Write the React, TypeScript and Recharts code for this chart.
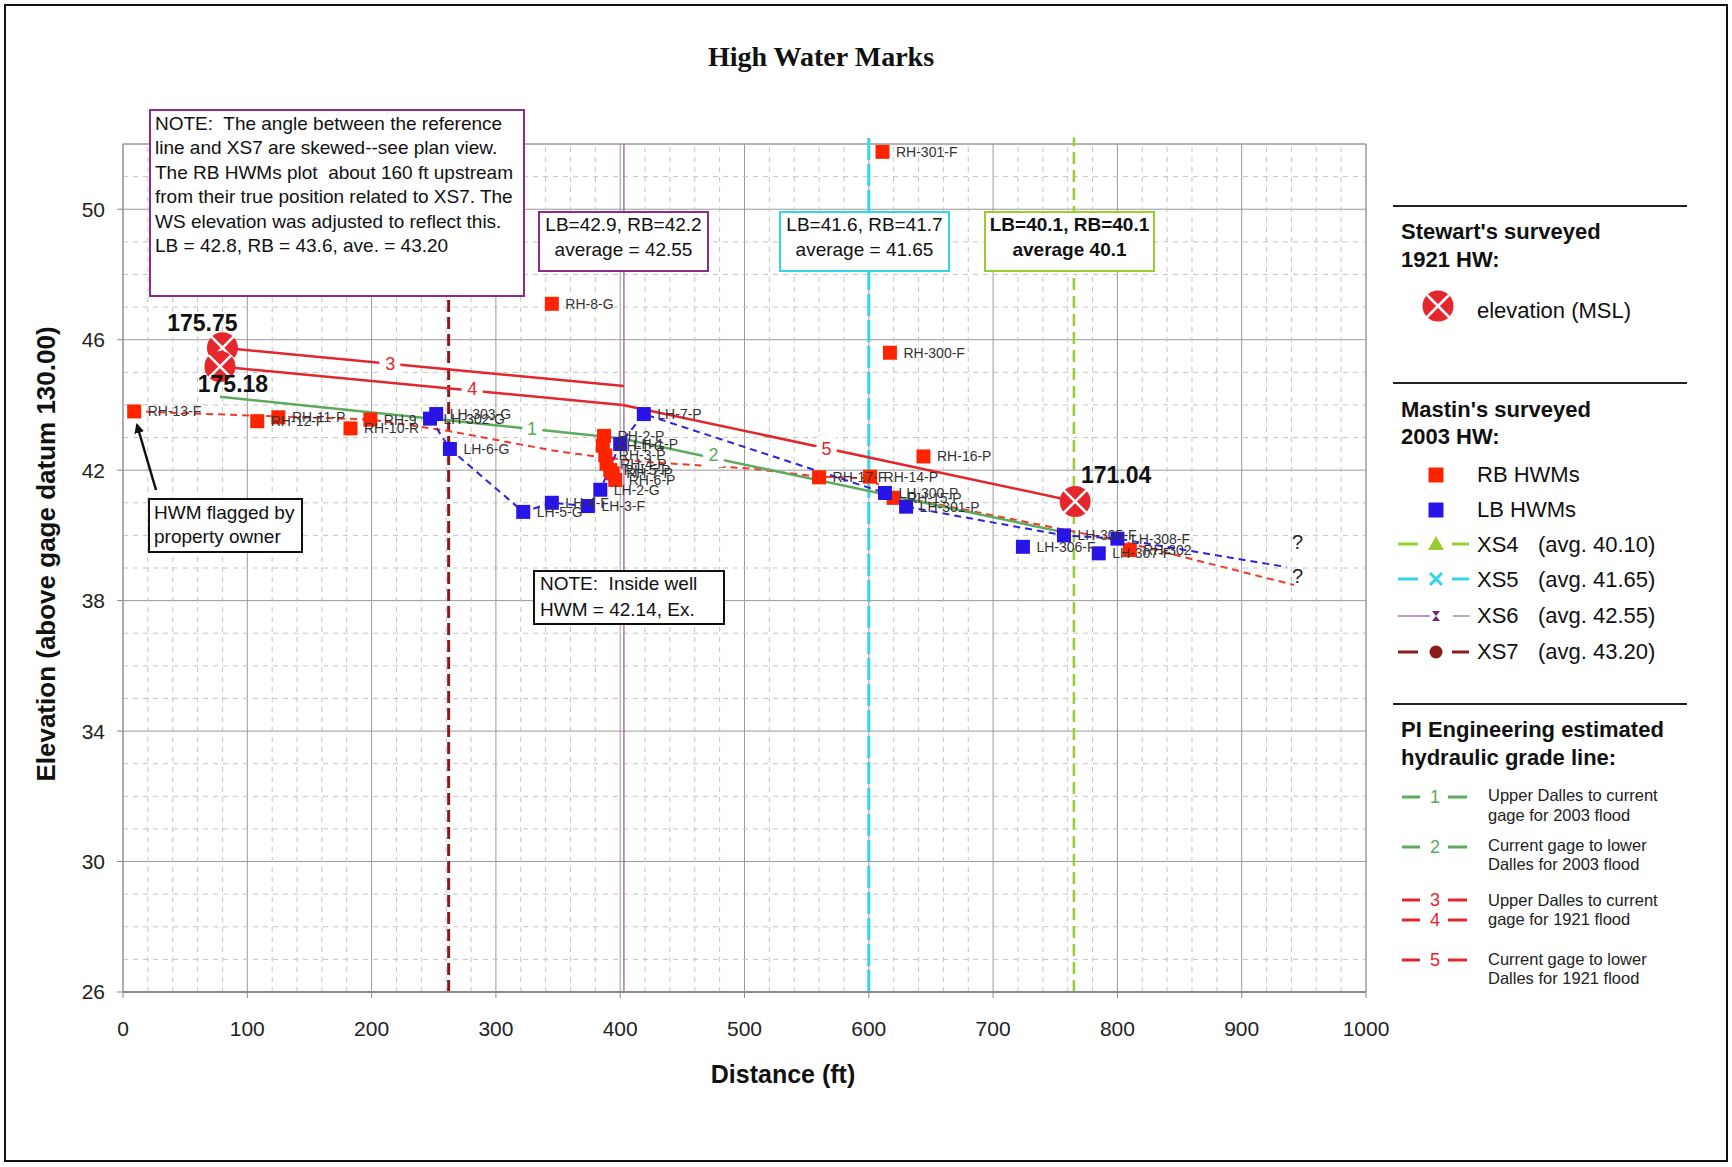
import React from 'react';
import { ScatterChart, Scatter, XAxis, YAxis, CartesianGrid, ReferenceLine, LabelList } from 'recharts';

const W = 1732;
const H = 1167;
const FONT = '"Liberation Sans", Arial, sans-serif';
const SERIF = '"Liberation Serif", "Times New Roman", serif';

const RB_RED = '#FF2400';
const LB_BLUE = '#2814E6';
const HW_RED = '#E5262B';
const GREEN = '#5DAA5D';
const LINE_RED = '#E3262B';

const xTicks = [0, 100, 200, 300, 400, 500, 600, 700, 800, 900, 1000];
const yTicks = [26, 30, 34, 38, 42, 46, 50];

// Mastin's surveyed 2003 HW, right bank
const rbMarks = [
  { x: 9, y: 43.8, name: 'RH-13-F' },
  { x: 108, y: 43.5, name: 'RH-12-F' },
  { x: 125, y: 43.62, name: 'RH-11-P' },
  { x: 183, y: 43.28, name: 'RH-10-R' },
  { x: 199, y: 43.55, name: 'RH-9' },
  { x: 345, y: 47.1, name: 'RH-8-G' },
  { x: 387, y: 43.05, name: 'RH-2-P' },
  { x: 386, y: 42.75, name: 'RH-1-G' },
  { x: 388, y: 42.45, name: 'RH-3-P' },
  { x: 389, y: 42.2, name: 'RH-4-P' },
  { x: 392, y: 42.0, name: 'RH-5-P' },
  { x: 394, y: 41.9, name: 'RH-7-P' },
  { x: 396, y: 41.7, name: 'RH-6-P' },
  { x: 560, y: 41.78, name: 'RH-17-F' },
  { x: 601, y: 41.8, name: 'RH-14-P' },
  { x: 611, y: 51.76, name: 'RH-301-F' },
  { x: 617, y: 45.6, name: 'RH-300-F' },
  { x: 620, y: 41.15, name: 'RH-15-P' },
  { x: 644, y: 42.42, name: 'RH-16-P' },
  { x: 810, y: 39.55, name: 'RH-302' },
];

// Mastin's surveyed 2003 HW, left bank
const lbMarks = [
  { x: 247, y: 43.58, name: 'LH-302-G' },
  { x: 252, y: 43.72, name: 'LH-303-G' },
  { x: 263, y: 42.65, name: 'LH-6-G' },
  { x: 322, y: 40.72, name: 'LH-5-G' },
  { x: 345, y: 41.0, name: 'LH-4-F' },
  { x: 374, y: 40.9, name: 'LH-3-F' },
  { x: 384, y: 41.4, name: 'LH-2-G' },
  { x: 400, y: 42.8, name: 'LH-1-P' },
  { x: 419, y: 43.72, name: 'LH-7-P' },
  { x: 613, y: 41.3, name: 'LH-300-P' },
  { x: 630, y: 40.88, name: 'LH-301-P' },
  { x: 724, y: 39.65, name: 'LH-306-F' },
  { x: 757, y: 40.0, name: 'LH-305-F' },
  { x: 785, y: 39.45, name: 'LH-307-F' },
  { x: 800, y: 39.9, name: 'LH-308-F' },
];

// dashed water-surface traces through the 2003 marks
const rbTrace = [
  { x: 9, y: 43.8 }, { x: 200, y: 43.55 }, { x: 262, y: 43.2 }, { x: 346, y: 42.6 },
  { x: 384, y: 42.4 }, { x: 420, y: 42.25 }, { x: 505, y: 42.05 }, { x: 560, y: 41.8 },
  { x: 601, y: 41.75 }, { x: 620, y: 41.2 }, { x: 652, y: 40.98 }, { x: 800, y: 39.85 },
  { x: 942, y: 38.48 },
];
const lbTrace = [
  { x: 247, y: 43.6 }, { x: 263, y: 42.65 }, { x: 322, y: 40.72 }, { x: 345, y: 41.0 },
  { x: 374, y: 40.9 }, { x: 384, y: 41.4 }, { x: 400, y: 42.8 }, { x: 419, y: 43.72 },
  { x: 613, y: 41.3 }, { x: 630, y: 40.88 }, { x: 757, y: 40.0 }, { x: 800, y: 39.9 },
  { x: 936, y: 39.03 },
];
const openEnds = [{ x: 945, y: 39.8 }, { x: 945, y: 38.76 }];

// Stewart's surveyed 1921 HW
const hw1921 = [
  { x: 80, y: 45.75, label: '175.75' },
  { x: 78, y: 45.18, label: '175.18' },
  { x: 766, y: 41.04, label: '171.04' },
];

// PI Engineering estimated hydraulic grade lines
const grade1 = [{ x: 78, y: 44.25 }, { x: 400, y: 42.98 }];
const grade2 = [{ x: 400, y: 42.98 }, { x: 760, y: 40.07 }];
const grade3 = [{ x: 80, y: 45.75 }, { x: 403, y: 44.58 }];
const grade4 = [{ x: 78, y: 45.18 }, { x: 402, y: 44.0 }];
const grade5 = [{ x: 402, y: 44.0 }, { x: 766, y: 41.04 }];
const gradeTags = [
  { x: 329, y: 43.26, n: '1' },
  { x: 475, y: 42.45, n: '2' },
  { x: 215, y: 45.26, n: '3' },
  { x: 281, y: 44.48, n: '4' },
  { x: 566, y: 42.65, n: '5' },
];

// cross sections
const xs4 = 765;
const xs5 = 600;
const xs6 = 403;
const xs7 = 262;

const minorX: number[] = [];
for (let v = 20; v < 1000; v += 20) if (v % 100) minorX.push(v);
const minorY: number[] = [];
for (let v = 27; v < 52; v++) if ((v - 26) % 4) minorY.push(v);

const tagColor: Record<string, string> = { '1': GREEN, '2': GREEN, '3': LINE_RED, '4': LINE_RED, '5': LINE_RED };
const hwLabelOffset: Record<string, [number, number]> = {
  '175.75': [-20, -17],
  '175.18': [13, 26],
  '171.04': [41, -18],
};

const square = (color: string) => (p: any) => (
  <rect x={p.cx - 7} y={p.cy - 7} width={14} height={14} fill={color} />
);
const nothing = () => <g />;

function HwMarker(p: any) {
  const { cx, cy, payload } = p;
  const r = 15.5;
  const d = r * 0.72;
  const [dx, dy] = hwLabelOffset[payload.label] || [0, 0];
  return (
    <g>
      <circle cx={cx} cy={cy} r={r} fill={HW_RED} />
      <line x1={cx - d} y1={cy - d} x2={cx + d} y2={cy + d} stroke="#fff" strokeWidth={2.5} />
      <line x1={cx - d} y1={cy + d} x2={cx + d} y2={cy - d} stroke="#fff" strokeWidth={2.5} />
      <text x={cx + dx} y={cy + dy} textAnchor="middle" fontSize={23} fontWeight="bold" fill="#111" fontFamily={FONT}>
        {payload.label}
      </text>
    </g>
  );
}

function GradeTag(p: any) {
  const { cx, cy, payload } = p;
  return (
    <text
      x={cx}
      y={cy + 6}
      textAnchor="middle"
      fontSize={18}
      fontFamily={FONT}
      fill={tagColor[payload.n]}
      stroke="#fff"
      strokeWidth={12}
      paintOrder="stroke"
    >
      {payload.n}
    </text>
  );
}

function QMark(p: any) {
  return (
    <text x={p.cx} y={p.cy + 7} textAnchor="middle" fontSize={20} fontFamily={FONT} fill="#222">
      ?
    </text>
  );
}

const labelProps = { fontSize: 14, fill: '#333', fontFamily: FONT };

function Box(props: { x: number; y: number; w: number; h: number; color: string; lines: string[]; tx: number; ty: number[]; anchor?: string; bold?: boolean }) {
  return (
    <g>
      <rect x={props.x} y={props.y} width={props.w} height={props.h} fill="#fff" stroke={props.color} strokeWidth={2} />
      {props.lines.map((t, i) => (
        <text
          key={i}
          x={props.tx}
          y={props.ty[i]}
          textAnchor={props.anchor || 'start'}
          fontSize={19}
          fontWeight={props.bold ? 'bold' : 'normal'}
          fill="#111"
          fontFamily={FONT}
          style={{ whiteSpace: 'pre' }}
        >
          {t}
        </text>
      ))}
    </g>
  );
}

function Legend() {
  const hx = 1401;
  const mx = 1436;
  const tx = 1477;
  const seg = (y: number, color: string, w: number) => (
    <g>
      <line x1={1398} y1={y} x2={1418} y2={y} stroke={color} strokeWidth={w} />
      <line x1={1452} y1={y} x2={1469} y2={y} stroke={color} strokeWidth={w} />
    </g>
  );
  const gradeSym = (y: number, n: string, color: string) => (
    <g>
      <line x1={1402} y1={y} x2={1420} y2={y} stroke={color} strokeWidth={3} />
      <text x={1435} y={y + 6} textAnchor="middle" fontSize={18} fill={color} fontFamily={FONT}>{n}</text>
      <line x1={1448} y1={y} x2={1467} y2={y} stroke={color} strokeWidth={3} />
    </g>
  );
  const small = (x: number, y: number, t: string) => (
    <text x={x} y={y} fontSize={16.5} fill="#222" fontFamily={FONT}>{t}</text>
  );
  return (
    <g fontFamily={FONT}>
      <line x1={1393} y1={206} x2={1687} y2={206} stroke="#222" strokeWidth={2} />
      <text x={hx} y={239} fontSize={22} fontWeight="bold" fill="#111">Stewart's surveyed</text>
      <text x={hx} y={267} fontSize={22} fontWeight="bold" fill="#111">1921 HW:</text>
      <circle cx={1438} cy={306} r={15.5} fill={HW_RED} />
      <line x1={1427} y1={295} x2={1449} y2={317} stroke="#fff" strokeWidth={2.5} />
      <line x1={1427} y1={317} x2={1449} y2={295} stroke="#fff" strokeWidth={2.5} />
      <text x={tx} y={318} fontSize={22} fill="#111">elevation (MSL)</text>

      <line x1={1393} y1={383} x2={1687} y2={383} stroke="#222" strokeWidth={2} />
      <text x={hx} y={417} fontSize={22} fontWeight="bold" fill="#111">Mastin's surveyed</text>
      <text x={hx} y={444} fontSize={22} fontWeight="bold" fill="#111">2003 HW:</text>
      <rect x={mx - 7.5} y={467.5} width={15} height={15} fill={RB_RED} />
      <text x={tx} y={482} fontSize={22} fill="#111">RB HWMs</text>
      <rect x={mx - 7.5} y={502.5} width={15} height={15} fill={LB_BLUE} />
      <text x={tx} y={517} fontSize={22} fill="#111">LB HWMs</text>

      {seg(544, '#9ACD32', 3)}
      <polygon points={`${mx},536 ${mx - 8},550 ${mx + 8},550`} fill="#9ACD32" />
      <text x={tx} y={552} fontSize={22} fill="#111">XS4</text>
      <text x={1538} y={552} fontSize={22} fill="#111">(avg. 40.10)</text>

      {seg(579, '#33D6E8', 3)}
      <line x1={mx - 6} y1={573} x2={mx + 6} y2={585} stroke="#33D6E8" strokeWidth={3} />
      <line x1={mx - 6} y1={585} x2={mx + 6} y2={573} stroke="#33D6E8" strokeWidth={3} />
      <text x={tx} y={587} fontSize={22} fill="#111">XS5</text>
      <text x={1538} y={587} fontSize={22} fill="#111">(avg. 41.65)</text>

      <line x1={1398} y1={616} x2={1430} y2={616} stroke="#9B4F9B" strokeWidth={1.2} />
      <line x1={1453} y1={616} x2={1470} y2={616} stroke="#8a7a8a" strokeWidth={1.2} />
      <polygon points={`${mx - 4},611 ${mx + 4},611 ${mx - 4},621 ${mx + 4},621`} fill="#7A1F7A" />
      <text x={tx} y={623} fontSize={22} fill="#111">XS6</text>
      <text x={1538} y={623} fontSize={22} fill="#111">(avg. 42.55)</text>

      {seg(652, '#8B1A1A', 3)}
      <circle cx={mx} cy={652} r={6.5} fill="#8B1A1A" />
      <text x={tx} y={659} fontSize={22} fill="#111">XS7</text>
      <text x={1538} y={659} fontSize={22} fill="#111">(avg. 43.20)</text>

      <line x1={1393} y1={704} x2={1687} y2={704} stroke="#222" strokeWidth={2} />
      <text x={hx} y={737} fontSize={22} fontWeight="bold" fill="#111">PI Engineering estimated</text>
      <text x={hx} y={765} fontSize={22} fontWeight="bold" fill="#111">hydraulic grade line:</text>

      {gradeSym(797, '1', GREEN)}
      {small(1488, 801, 'Upper Dalles to current')}
      {small(1488, 821, 'gage for 2003 flood')}
      {gradeSym(847, '2', GREEN)}
      {small(1488, 851, 'Current gage to lower')}
      {small(1488, 870, 'Dalles for 2003 flood')}
      {gradeSym(900, '3', LINE_RED)}
      {gradeSym(920, '4', LINE_RED)}
      {small(1488, 906, 'Upper Dalles to current')}
      {small(1488, 925, 'gage for 1921 flood')}
      {gradeSym(960, '5', LINE_RED)}
      {small(1488, 965, 'Current gage to lower')}
      {small(1488, 984, 'Dalles for 1921 flood')}
    </g>
  );
}

export default function App() {
  return (
    <div style={{ position: 'absolute', left: 0, top: 0, width: W, height: H, background: '#fff' }}>
      <ScatterChart width={W} height={H} margin={{ top: 144, right: 366, bottom: 0, left: 0 }}>
        <CartesianGrid stroke="#9a9a9a" strokeWidth={1} />
        {minorX.map((v) => (
          <ReferenceLine key={'mx' + v} x={v} stroke="#c4c4c4" strokeDasharray="5 5" />
        ))}
        {minorY.map((v) => (
          <ReferenceLine key={'my' + v} y={v} stroke="#c4c4c4" strokeDasharray="5 5" />
        ))}
        <ReferenceLine y={52} stroke="#9a9a9a" />
        <ReferenceLine x={1000} stroke="#9a9a9a" />
        <XAxis
          type="number"
          dataKey="x"
          domain={[0, 1000]}
          ticks={xTicks}
          allowDataOverflow
          height={175}
          tickSize={6}
          tickMargin={23}
          axisLine={{ stroke: '#8a8a8a', strokeWidth: 2 }}
          tickLine={{ stroke: '#8a8a8a' }}
          tick={{ fill: '#222', fontSize: 21, fontFamily: FONT }}
        />
        <YAxis
          type="number"
          dataKey="y"
          domain={[26, 52]}
          ticks={yTicks}
          allowDataOverflow
          width={123}
          tickSize={6}
          tickMargin={12}
          axisLine={{ stroke: '#8a8a8a' }}
          tickLine={{ stroke: '#8a8a8a' }}
          tick={{ fill: '#222', fontSize: 21, fontFamily: FONT }}
        />
        <ReferenceLine x={xs7} stroke="#8B1A1A" strokeWidth={3} strokeDasharray="12 5" />
        <ReferenceLine x={xs6} stroke="#9B4F9B" strokeWidth={1.2} />
        <ReferenceLine
          segment={[{ x: xs5, y: 26 }, { x: xs5, y: 52.25 }]}
          ifOverflow="visible"
          stroke="#33D6E8"
          strokeWidth={3}
          strokeDasharray="22 4"
        />
        <ReferenceLine
          segment={[{ x: xs4, y: 26 }, { x: xs4, y: 52.2 }]}
          ifOverflow="visible"
          stroke="#9ACD32"
          strokeWidth={2.5}
          strokeDasharray="12 6"
        />

        <Scatter data={rbTrace} shape={nothing} line={{ stroke: '#F0392B', strokeWidth: 2, strokeDasharray: '7 5' }} isAnimationActive={false} />
        <Scatter data={lbTrace} shape={nothing} line={{ stroke: '#2E22E0', strokeWidth: 2, strokeDasharray: '7 5' }} isAnimationActive={false} />
        <Scatter data={grade1} shape={nothing} line={{ stroke: GREEN, strokeWidth: 2.5 }} isAnimationActive={false} />
        <Scatter data={grade2} shape={nothing} line={{ stroke: GREEN, strokeWidth: 2.5 }} isAnimationActive={false} />
        <Scatter data={grade3} shape={nothing} line={{ stroke: LINE_RED, strokeWidth: 2.5 }} isAnimationActive={false} />
        <Scatter data={grade4} shape={nothing} line={{ stroke: LINE_RED, strokeWidth: 2.5 }} isAnimationActive={false} />
        <Scatter data={grade5} shape={nothing} line={{ stroke: LINE_RED, strokeWidth: 2.5 }} isAnimationActive={false} />
        <Scatter data={gradeTags} shape={GradeTag} isAnimationActive={false} />
        <Scatter data={openEnds} shape={QMark} isAnimationActive={false} />

        <Scatter data={rbMarks} shape={square(RB_RED)} isAnimationActive={false}>
          <LabelList dataKey="name" position="right" offset={9} {...labelProps} />
        </Scatter>
        <Scatter data={lbMarks} shape={square(LB_BLUE)} isAnimationActive={false}>
          <LabelList dataKey="name" position="right" offset={9} {...labelProps} />
        </Scatter>
        <Scatter data={hw1921} shape={HwMarker} isAnimationActive={false} />
      </ScatterChart>

      <svg width={W} height={H} style={{ position: 'absolute', left: 0, top: 0, pointerEvents: 'none' }}>
        <rect x={5} y={5} width={1722} height={1156} fill="none" stroke="#111" strokeWidth={2} />
        <text x={821} y={66} textAnchor="middle" fontSize={28} fontWeight="bold" fontFamily={SERIF} fill="#111">
          High Water Marks
        </text>
        <text
          transform="translate(55,554) rotate(-90)"
          textAnchor="middle"
          fontSize={26}
          fontWeight="bold"
          fontFamily={FONT}
          fill="#111"
        >
          Elevation (above gage datum 130.00)
        </text>
        <text x={783} y={1083} textAnchor="middle" fontSize={25} fontWeight="bold" fontFamily={FONT} fill="#111">
          Distance (ft)
        </text>

        <Box
          x={150}
          y={110}
          w={374}
          h={186}
          color="#8B2C8B"
          tx={155}
          ty={[130, 154, 179, 203, 228, 252]}
          lines={[
            'NOTE:  The angle between the reference',
            'line and XS7 are skewed--see plan view.',
            'The RB HWMs plot  about 160 ft upstream',
            'from their true position related to XS7. The',
            'WS elevation was adjusted to reflect this.',
            'LB = 42.8, RB = 43.6, ave. = 43.20',
          ]}
        />
        <Box x={539} y={212} w={169} h={59} color="#8B2C8B" tx={623.5} anchor="middle" ty={[231, 256]} lines={['LB=42.9, RB=42.2', 'average = 42.55']} />
        <Box x={780} y={212} w={169} h={59} color="#33D6E8" tx={864.5} anchor="middle" ty={[231, 256]} lines={['LB=41.6, RB=41.7', 'average = 41.65']} />
        <Box x={985} y={212} w={169} h={59} color="#9ACD32" tx={1069.5} anchor="middle" ty={[231, 256]} bold lines={['LB=40.1, RB=40.1', 'average 40.1']} />
        <Box x={149} y={499} w={153} h={53} color="#111" tx={154} ty={[519, 543]} lines={['HWM flagged by', 'property owner']} />
        <Box x={534} y={571} w={190} h={53} color="#111" tx={540} ty={[590, 616]} lines={['NOTE:  Inside well', 'HWM = 42.14, Ex.']} />

        <defs>
          <marker id="arrow" markerWidth="10" markerHeight="10" refX="8" refY="5" orient="auto" markerUnits="userSpaceOnUse">
            <path d="M0,0 L10,5 L0,10 z" fill="#111" />
          </marker>
        </defs>
        <line x1={156} y1={490} x2={137} y2={425} stroke="#111" strokeWidth={2.5} markerEnd="url(#arrow)" />

        <Legend />
      </svg>
    </div>
  );
}
